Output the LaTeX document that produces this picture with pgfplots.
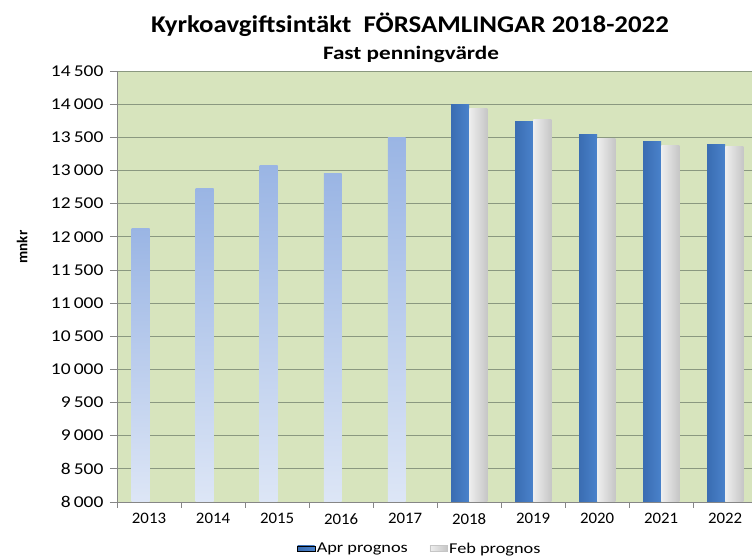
\documentclass[border=0pt]{standalone}
\usepackage{pgfplots}
\pgfplotsset{compat=1.18}
\usepackage{fontspec}
\setmainfont{Carlito}
\definecolor{plotbg}{HTML}{D7E4BD}
\definecolor{gridc}{HTML}{8A9880}
\definecolor{axc}{HTML}{868686}
\definecolor{aprL}{HTML}{3A6DB2}
\definecolor{aprM}{HTML}{5E9BE2}
\definecolor{aprR}{HTML}{4A82CB}
\definecolor{histT}{HTML}{9AB5E4}
\definecolor{histB}{HTML}{DDE6F6}
\definecolor{febL}{HTML}{EEEEEE}
\definecolor{febR}{HTML}{C6C6C6}
\pgfplotsset{
  hist/.style={ybar, bar width=0.28, bar shift=-0.13, draw=none, top color=histT, bottom color=histB, forget plot},
  apr/.style={ybar, bar width=0.28, bar shift=-0.14, draw=none, left color=aprL, middle color=aprM, right color=aprR, forget plot},
  feb/.style={ybar, bar width=0.28, bar shift=0.145, draw=none, left color=febL, middle color=white, right color=febR, forget plot},
}
\begin{document}
\begin{tikzpicture}
\useasboundingbox (-117pt,-54pt) rectangle (635pt,502pt);
\begin{axis}[
  at={(0pt,0pt)}, anchor=south west,
  scale only axis, width=635pt, height=431pt,
  xmin=-0.5, xmax=9.42, ymin=8000, ymax=14500,
  axis x line*=bottom, axis y line*=left,
  axis line style={axc, line width=0.8pt},
  axis background/.style={fill=plotbg},
  scaled y ticks=false,
  ytick={8000,8500,...,14500},
  yticklabels={8\,000,8\,500,9\,000,9\,500,10\,000,10\,500,11\,000,11\,500,12\,000,12\,500,13\,000,13\,500,14\,000,14\,500},
  ymajorgrids, grid style={gridc, line width=0.8pt},
  xtick={0,...,9},
  xticklabels={2013,2014,2015,2016,2017,2018,2019,2020,2021,2022},
  minor xtick={-0.5,0.5,...,8.5},
  major x tick style={draw=none},
  minor x tick style={axc, line width=0.8pt},
  y tick style={axc, line width=0.8pt},
  tick align=outside, major tick length=7pt, minor tick length=6pt,
  yticklabel style={font=\fontsize{16.5}{16.5}\selectfont, xscale=1.18, xshift=-2pt},
  xticklabel style={font=\fontsize{16}{16}\selectfont, xscale=1.05, yshift=-1pt},
  legend style={at={(0.477,-0.108)}, anchor=center, draw=none, fill=none,
    font=\fontsize{15}{15}\selectfont, nodes={xscale=1.22, inner xsep=1.5pt},
    /tikz/every even column/.append style={column sep=20pt}},
  legend columns=2,
  legend image code/.code={\path[#1] (0pt,-4pt) rectangle (6.5pt,4pt);},
]
\addplot[hist] coordinates {(0,12130)};
\addplot[hist] coordinates {(1,12725)};
\addplot[hist] coordinates {(2,13080)};
\addplot[hist] coordinates {(3,12955)};
\addplot[hist] coordinates {(4,13490)};
\addplot[apr] coordinates {(5,13990)};
\addplot[apr] coordinates {(6,13737)};
\addplot[apr] coordinates {(7,13535)};
\addplot[apr] coordinates {(8,13440)};
\addplot[apr] coordinates {(9,13395)};
\addplot[feb] coordinates {(5,13940)};
\addplot[feb] coordinates {(6,13767)};
\addplot[feb] coordinates {(7,13485)};
\addplot[feb] coordinates {(8,13380)};
\addplot[feb] coordinates {(9,13360)};
\addlegendimage{area legend, draw=none, left color=aprL, middle color=aprM, right color=aprR}
\addlegendentry{Apr prognos}
\addlegendimage{area legend, draw=febR, line width=0.5pt, left color=febL, middle color=white, right color=febR}
\addlegendentry{Feb prognos}
\end{axis}
\node[font=\bfseries\fontsize{24}{24}\selectfont, xscale=1.12, anchor=base] at (293pt,469.5pt) {Kyrkoavgiftsintäkt\ \ FÖRSAMLINGAR 2018-2022};
\node[font=\bfseries\fontsize{19}{19}\selectfont, xscale=1.22, anchor=base] at (294pt,442pt) {Fast penningvärde};
\node[font=\bfseries\fontsize{15}{15}\selectfont, rotate=90] at (-95pt,255pt) {mnkr};
\end{tikzpicture}
\end{document}
